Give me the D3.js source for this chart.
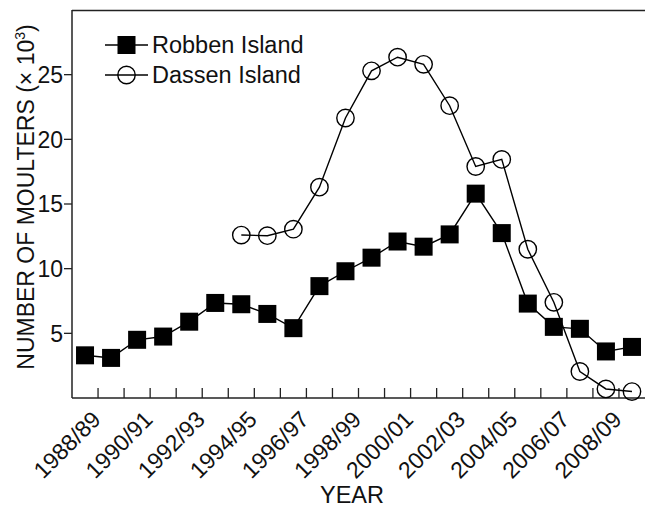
<!DOCTYPE html>
<html><head><meta charset="utf-8">
<script src="https://cdn.jsdelivr.net/npm/d3@7"></script>
<style>body{margin:0;background:#fff}svg{display:block}text{font-family:"Liberation Sans",Arial,sans-serif;fill:#111}</style>
</head><body><svg id="c" width="645" height="509"></svg>
<script>
const years = ["1988/89","1989/90","1990/91","1991/92","1992/93","1993/94","1994/95","1995/96","1996/97","1997/98","1998/99","1999/00","2000/01","2001/02","2002/03","2003/04","2004/05","2005/06","2006/07","2007/08","2008/09","2009/10"];
const robben = [3.3,3.1,4.5,4.75,5.9,7.35,7.25,6.5,5.4,8.65,9.8,10.85,12.1,11.7,12.65,15.8,12.75,7.3,5.5,5.35,3.6,3.95];
const dassen = [null,null,null,null,null,null,12.6,12.55,13.05,16.3,21.65,25.3,26.35,25.8,22.6,17.9,18.45,11.5,7.4,2.05,0.7,0.5];
const yTicks = [5,10,15,20,25];
const labelYears = years.filter((d,i)=>i%2===0);

const svg = d3.select("#c");
const L=72, T=10, R=645, B=398;
const x = d3.scaleBand().domain(years).range([L,R]);
const y = d3.scaleLinear().domain([0,30]).range([B,T]);
const cx = d => x(d)+x.bandwidth()/2;

// frame
svg.append("line").attr("x1",L).attr("x2",R).attr("y1",T+0.5).attr("y2",T+0.5).attr("stroke","#222").attr("stroke-width",1.5);
svg.append("line").attr("x1",L).attr("x2",L).attr("y1",T).attr("y2",B).attr("stroke","#222").attr("stroke-width",1.5);
svg.append("line").attr("x1",L).attr("x2",R).attr("y1",B).attr("y2",B).attr("stroke","#222").attr("stroke-width",1.5);

// y ticks
const yg = svg.append("g");
yTicks.forEach(t=>{
  yg.append("line").attr("x1",L-8).attr("x2",L).attr("y1",y(t)).attr("y2",y(t)).attr("stroke","#222").attr("stroke-width",1.3);
  yg.append("text").attr("x",L-9).attr("y",y(t)).attr("dy","0.36em").attr("text-anchor","end").attr("font-size",23).text(t);
});
// x ticks at band boundaries
years.slice(1).forEach(d=>{
  svg.append("line").attr("x1",x(d)).attr("x2",x(d)).attr("y1",B).attr("y2",B-10).attr("stroke","#222").attr("stroke-width",1.3);
});
labelYears.forEach(d=>{
  svg.append("text").attr("text-anchor","end").attr("font-size",23)
    .attr("transform",`translate(${cx(d)+17},${B+23}) rotate(-45)`).text(d);
});
svg.append("text").attr("x",352).attr("y",503).attr("text-anchor","middle").attr("font-size",23.5).text("YEAR");
const yl = svg.append("text").attr("transform","translate(34,197) rotate(-90)").attr("text-anchor","middle").attr("font-size",23);
yl.append("tspan").text("NUMBER OF MOULTERS (× 10");
yl.append("tspan").attr("font-size",14).attr("dy",-9).text("3");
yl.append("tspan").attr("dy",9).text(")");

// lines
const line = d3.line().defined(d=>d.v!=null).x(d=>cx(d.k)).y(d=>y(d.v));
const rd = years.map((k,i)=>({k,v:robben[i]}));
const dd = years.map((k,i)=>({k,v:dassen[i]}));
svg.append("path").attr("d",line(rd)).attr("fill","none").attr("stroke","#000").attr("stroke-width",1.4);
svg.append("path").attr("d",line(dd)).attr("fill","none").attr("stroke","#000").attr("stroke-width",1.4);
const S=18, CR=8.7;
svg.selectAll(".sq").data(rd).join("rect").attr("x",d=>cx(d.k)-S/2).attr("y",d=>y(d.v)-S/2).attr("width",S).attr("height",S).attr("fill","#000");
svg.selectAll(".ci").data(dd.filter(d=>d.v!=null)).join("circle").attr("cx",d=>cx(d.k)).attr("cy",d=>y(d.v)).attr("r",CR).attr("fill","none").attr("stroke","#000").attr("stroke-width",1.4);

// legend
const lg = svg.append("g");
lg.append("line").attr("x1",105).attr("x2",148).attr("y1",45).attr("y2",45).attr("stroke","#000").attr("stroke-width",1.4);
lg.append("rect").attr("x",126.5-S/2).attr("y",45-S/2).attr("width",S).attr("height",S).attr("fill","#000");
lg.append("text").attr("x",152).attr("y",45).attr("dy","0.36em").attr("font-size",23.5).text("Robben Island");
lg.append("line").attr("x1",105).attr("x2",148).attr("y1",75).attr("y2",75).attr("stroke","#000").attr("stroke-width",1.4);
lg.append("circle").attr("cx",126.5).attr("cy",75).attr("r",CR).attr("fill","none").attr("stroke","#000").attr("stroke-width",1.4);
lg.append("text").attr("x",152).attr("y",75).attr("dy","0.36em").attr("font-size",23.5).text("Dassen Island");
</script></body></html>
